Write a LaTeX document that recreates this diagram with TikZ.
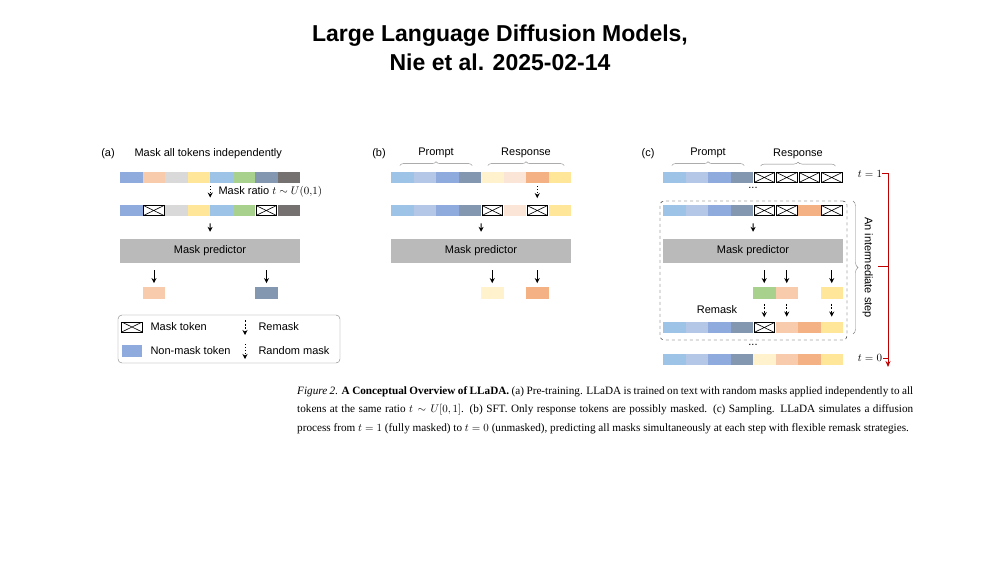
\documentclass[tikz,border=0pt]{standalone}
\usepackage{fontspec}
\setmainfont{Liberation Serif}
\setsansfont{Liberation Sans}
\usepackage{amsmath}
\usetikzlibrary{arrows.meta,positioning,decorations.pathreplacing}
\definecolor{cA}{HTML}{8FAADC}
\definecolor{cB}{HTML}{F8CBAD}
\definecolor{cC}{HTML}{D9D9D9}
\definecolor{cD}{HTML}{FFE699}
\definecolor{cE}{HTML}{9DC3E6}
\definecolor{cF}{HTML}{A9D18E}
\definecolor{cG}{HTML}{8497B0}
\definecolor{cH}{HTML}{767171}
\definecolor{pB}{HTML}{B4C7E7}
\definecolor{rA}{HTML}{FFF2CC}
\definecolor{rB}{HTML}{FBE5D6}
\definecolor{rC}{HTML}{F4B183}
\definecolor{redline}{HTML}{C00000}
\tikzset{font=\sffamily\fontsize{11}{13}\selectfont}
\tikzstyle{tok}=[rectangle,inner sep=0pt,minimum width=22.5pt,minimum height=11.5pt]
\tikzstyle{mk}=[draw=black,line width=0.9pt,minimum width=20.5pt,minimum height=10pt,
  path picture={\draw[line width=0.6pt] (path picture bounding box.south west) -- (path picture bounding box.north east)
  (path picture bounding box.north west) -- (path picture bounding box.south east);}]
\tikzstyle{pred}=[rectangle,fill=black!27,minimum width=180pt,minimum height=24pt,inner sep=0pt]
\tikzstyle{arr}=[-{Stealth[length=5pt,width=5pt]},line width=1pt]
\tikzstyle{rnd}=[arr,dotted]
\tikzstyle{rmk}=[arr,dash pattern=on 2pt off 1.5pt]
\tikzstyle{brc}=[draw=gray,decorate,decoration={brace,amplitude=4pt}]
\tikzset{cA/.style={fill=cA},cB/.style={fill=cB},cC/.style={fill=cC},cD/.style={fill=cD},
  cE/.style={fill=cE},cF/.style={fill=cF},cG/.style={fill=cG},cH/.style={fill=cH},
  pB/.style={fill=pB},rA/.style={fill=rA},rB/.style={fill=rB},rC/.style={fill=rC}}
% one row of tokens: name, y, left x, styles
\newcommand{\tokrow}[4]{\foreach \c [count=\i] in {#4}
  {\node[tok,\c] (#1\i) at ({#3+(\i-0.5)*22.5},#2) {};}}
\begin{document}
\begin{tikzpicture}[x=1pt,y=-1pt]
\useasboundingbox (0,0) rectangle (1000,563);
% title
\node[font=\sffamily\bfseries\fontsize{23}{29}\selectfont,align=center] (title) at (500,48)
  {Large Language Diffusion Models,\\ Nie et al. 2025-02-14};
% (a)
\node (la) at (108,154) {(a)};
\node[anchor=west] (ta) at (131,154) {Mask all tokens independently};
\tokrow{a}{177.5}{120}{cA,cB,cC,cD,cE,cF,cG,cH}
\tokrow{b}{210.5}{120}{cA,mk,cC,cD,cE,cF,mk,cH}
\node[pred] (pa) at (210,251) {Mask predictor};
\node[tok,cB] (oa1) at (154,293) {};
\node[tok,cG] (oa2) at (266.5,293) {};
\node[anchor=west] (ra) at (215,192) {Mask ratio $t\sim U(0{,}1)$};
\path[font=\scriptsize]
(a4.south east) edge[rnd,shorten <=3pt,shorten >=7pt] (b4.north east)
(b4.south east) edge[arr,shorten <=7pt,shorten >=7pt] (pa.north)
(oa1|-pa.south) edge[arr,shorten <=7pt,shorten >=4pt] (oa1)
(oa2|-pa.south) edge[arr,shorten <=7pt,shorten >=4pt] (oa2);
% legend
\node[draw=gray,rounded corners=4pt,minimum width=222pt,minimum height=48pt] (lg) at (229,339) {};
\node[tok,mk] (lm) at (132,327) {};
\node[anchor=west] (lmt) at (147,327) {Mask token};
\node[tok,cA,minimum width=20.5pt] (ln) at (132,351) {};
\node[anchor=west] (lnt) at (147,351) {Non-mask token};
\coordinate (r1) at (245,320); \coordinate (r2) at (245,335);
\coordinate (r3) at (245,344); \coordinate (r4) at (245,359);
\draw[rmk] (r1) -- (r2);
\draw[rnd] (r3) -- (r4);
\node[anchor=west] (lrt) at (255,327) {Remask};
\node[anchor=west] (ldt) at (255,351) {Random mask};
% (b)
\node (lb) at (379,154) {(b)};
\tokrow{c}{177.5}{391}{cE,pB,cA,cG,rA,rB,rC,cD}
\tokrow{d}{210.5}{391}{cE,pB,cA,cG,mk,rB,mk,cD}
\draw[brc] ([xshift=9pt,yshift=6pt]c1.north west) -- ([xshift=-9pt,yshift=6pt]c4.north east) node[midway,above=4pt] (pb) {Prompt};
\draw[brc] ([xshift=7pt,yshift=6pt]c5.north west) -- ([xshift=-7pt,yshift=6pt]c8.north east) node[midway,above=4pt] (rb) {Response};
\node[pred] (pb2) at (481,251) {Mask predictor};
\node[tok,rA] (ob1) at (d5|-oa1) {};
\node[tok,rC] (ob2) at (d7|-oa1) {};
\path
(c7.south) edge[rnd,shorten <=3pt,shorten >=7pt] (d7.north)
(d4.south east) edge[arr,shorten <=7pt,shorten >=7pt] (pb2.north)
(ob1|-pb2.south) edge[arr,shorten <=7pt,shorten >=4pt] (ob1)
(ob2|-pb2.south) edge[arr,shorten <=7pt,shorten >=4pt] (ob2);
% (c)
\node (lc) at (648,154) {(c)};
\tokrow{e}{177.5}{663}{cE,pB,cA,cG,mk,mk,mk,mk}
\tokrow{f}{210.5}{663}{cE,pB,cA,cG,mk,mk,rC,mk}
\tokrow{g}{327.5}{663}{cE,pB,cA,cG,mk,cB,rC,cD}
\tokrow{h}{359.5}{663}{cE,pB,cA,cG,rA,cB,rC,cD}
\draw[brc] ([xshift=9pt,yshift=6pt]e1.north west) -- ([xshift=-9pt,yshift=6pt]e4.north east) node[midway,above=4pt] (pc) {Prompt};
\draw[brc] ([xshift=7pt,yshift=6pt]e5.north west) -- ([xshift=-7pt,yshift=6pt]e8.north east) node[midway,above=4pt] (rc) {Response};
\node (d1) at (753,188) {...};
\node (d2) at (753,345) {...};
\node[draw,dashed,rounded corners=4pt,minimum width=187pt,minimum height=139pt] (box) at (753.5,270.5) {};
\node[pred] (pc2) at (753,251) {Mask predictor};
\node[tok,cF] (oc1) at (f5|-oa1) {};
\node[tok,cB] (oc2) at (f6|-oa1) {};
\node[tok,cD] (oc3) at (f8|-oa1) {};
\node (rm) at (717,310) {Remask};
\path
(f4.south east) edge[arr,shorten <=7pt,shorten >=7pt] (pc2.north)
(oc1|-pc2.south) edge[arr,shorten <=7pt,shorten >=4pt] (oc1)
(oc2|-pc2.south) edge[arr,shorten <=7pt,shorten >=4pt] (oc2)
(oc3|-pc2.south) edge[arr,shorten <=7pt,shorten >=4pt] (oc3)
(oc1.south) edge[rmk,shorten <=5pt,shorten >=5pt] (g5.north)
(oc2.south) edge[rmk,shorten <=5pt,shorten >=5pt] (g6.north)
(oc3.south) edge[rmk,shorten <=5pt,shorten >=5pt] (g8.north);
\draw[draw=gray,decorate,decoration={brace,amplitude=5pt}] (853,201) -- (853,334) node[midway,right=6pt,rotate=-90,anchor=south] (st) {An intermediate step};
\node (t1) at (870,174) {$t=1$};
\node (t0) at (870,358) {$t=0$};
\coordinate (q1) at (882,173); \coordinate (q2) at (888,173);
\coordinate (q3) at (888,367); \coordinate (q4) at (878,266);
\coordinate (q5) at (888,266); \coordinate (q6) at (883,358);
\coordinate (q7) at (888,358);
\draw[redline,line width=1pt,-{Stealth[length=6pt,width=5pt]}] (q1) -- (q2) -- (q3);
\draw[redline,line width=1pt] (q4) -- (q5) (q6) -- (q7);
% caption
\node[font=\rmfamily\fontsize{11.2}{18.5}\selectfont,text width=616pt,align=justify,anchor=north west,inner sep=0pt] (cap) at (297,386)
{\textit{Figure 2.} \textbf{A Conceptual Overview of LLaDA.} (a) Pre-training. LLaDA is trained on text with random masks applied independently to all\linebreak
tokens at the same ratio $t\sim U[0,1]$. (b) SFT. Only response tokens are possibly masked. (c) Sampling. LLaDA simulates a diffusion\linebreak
process from $t=1$ (fully masked) to $t=0$ (unmasked), predicting all masks simultaneously at each step with flexible remask strategies.};
\end{tikzpicture}
\end{document}
